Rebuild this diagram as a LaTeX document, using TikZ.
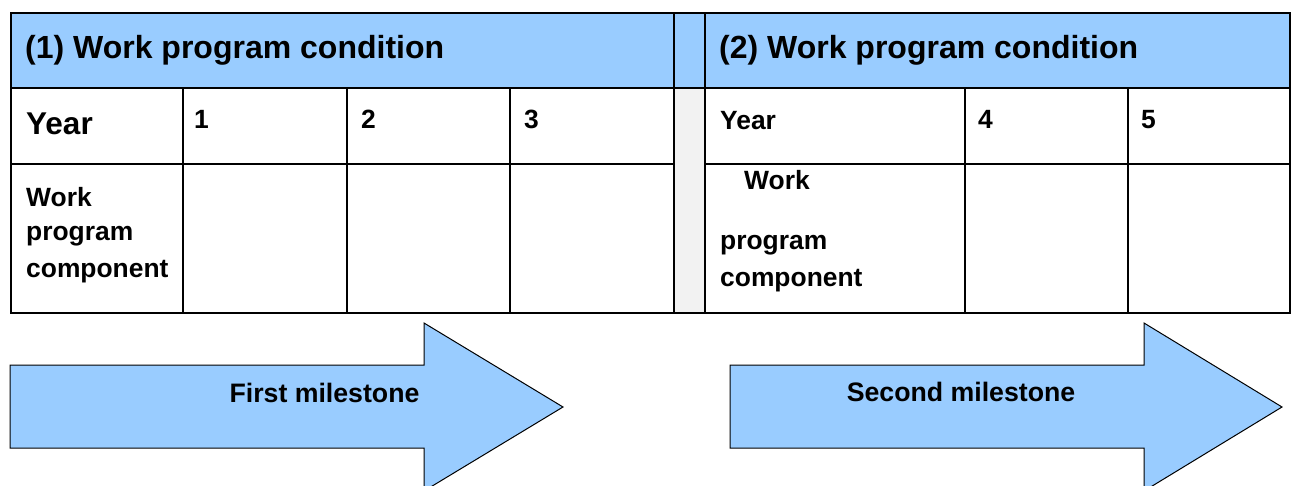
\documentclass[tikz,border=0pt]{standalone}
\usepackage{fontspec}
\setmainfont{Liberation Sans}
\definecolor{hdrblue}{RGB}{153,204,255}
\definecolor{gapgray}{RGB}{242,242,242}
\begin{document}
\begin{tikzpicture}[x=1pt,y=-1pt,
  gridline/.style={line width=2pt, black},
  hdr/.style={anchor=base west, inner sep=0pt, font=\fontsize{32}{36}\selectfont\bfseries},
  bigyear/.style={anchor=base west, inner sep=0pt, font=\fontsize{31.5}{36}\selectfont\bfseries},
  cell/.style={anchor=base west, inner sep=0pt, font=\fontsize{26.4}{30}\selectfont\bfseries},
  milestone/.style={fill=hdrblue, draw=black, line width=1pt, line join=miter},
  mlabel/.style={anchor=base, inner sep=0pt, font=\fontsize{26.7}{30}\selectfont\bfseries}]
\clip (0,0) rectangle (1295,486);
\fill[white] (0,0) rectangle (1295,486);

% header band and separator column
\fill[hdrblue] (11,13) rectangle (1290,88);
\fill[gapgray] (674,88) rectangle (705,313);

% table rules
\draw[gridline] (11,13) rectangle (1290,313);
\draw[gridline] (11,88) -- (1290,88);
\draw[gridline] (11,164) -- (674,164) (705,164) -- (1290,164);
\draw[gridline] (674,13) -- (674,313) (705,13) -- (705,313);
\draw[gridline] (183,88) -- (183,313) (347,88) -- (347,313) (510,88) -- (510,313);
\draw[gridline] (965,88) -- (965,313) (1128,88) -- (1128,313);

% header texts
\node[hdr] (hdrA) at (25,59) {(1) Work program condition};
\node[hdr] (hdrB) at (719,59) {(2) Work program condition};

% year row
\node[bigyear] (yearA) at (26,135) {Year};
\node[cell] (yr1) at (194,129) {1};
\node[cell] (yr2) at (361,129) {2};
\node[cell] (yr3) at (524,129) {3};
\node[cell] (yearB) at (720,130) {Year};
\node[cell] (yr4) at (978,129) {4};
\node[cell] (yr5) at (1141,129) {5};

% component row
\node[cell] (compA1) at (26,207) {Work};
\node[cell] (compA2) at (26,241) {program};
\node[cell] (compA3) at (26,277) {component};
\node[cell] (compB1) at (744,190) {Work};
\node[cell] (compB2) at (720,250) {program};
\node[cell] (compB3) at (720,287) {component};

% milestone arrows
\draw[milestone] (10,365) -- (424,365) -- (424,323) -- (563,407) -- (424,491) -- (424,448) -- (10,448) -- cycle;
\draw[milestone] (730,365) -- (1144,365) -- (1144,323) -- (1282,407) -- (1144,491) -- (1144,448) -- (730,448) -- cycle;
\node[mlabel] (msA) at (324.5,402) {First milestone};
\node[mlabel] (msB) at (961,401) {Second milestone};
\end{tikzpicture}
\end{document}
